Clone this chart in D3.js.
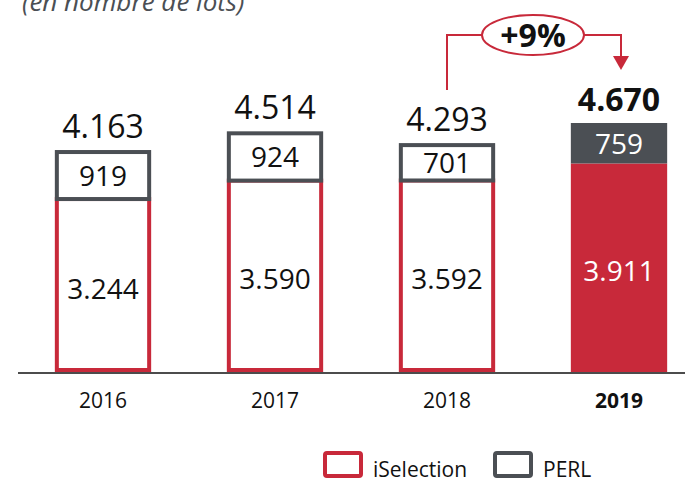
<!DOCTYPE html>
<html lang="fr">
<head>
  <meta charset="UTF-8" />
  <title>Lots iSelection / PERL</title>
  <script src="https://d3js.org/d3.v7.min.js"></script>
  <style>
    body { margin: 0; background: #fff; font-family: 'Open Sans', 'Noto Sans', sans-serif; }
    svg { display: block; }
  </style>
</head>
<body>
  <svg id="chart"></svg>
  <script>
    // chart data
    const years = ["2016", "2017", "2018", "2019"];
    const iSelection = [3244, 3590, 3592, 3911];
    const perl = [919, 924, 701, 759];
    const totals = [4163, 4514, 4293, 4670];
    const growthLabel = "+9%";
    const legendLabels = ["iSelection", "PERL"];

    const width = 685, height = 486;
    const red = "#c8293a", grey = "#4b4f54";

    const svg = d3.select("#chart").attr("width", width).attr("height", height);

    const fr = d3.formatLocale({ decimal: ",", thousands: ".", grouping: [3], currency: ["", "€"] });
    const fmt = fr.format(",d");

    const x = d3.scaleBand().domain(years).range([17, 705]).paddingInner(0.44).paddingOuter(0.22);
    const y = d3.scaleLinear().domain([0, 4670]).range([372, 123]);

    const data = years.map((yr, i) => ({ year: yr, isel: iSelection[i], perl: perl[i], total: totals[i], last: i === years.length - 1 }));

    // subtitle (cut off at top, as in the source)
    svg.append("text")
      .attr("x", 22).attr("y", 11)
      .attr("font-size", 26).attr("font-style", "italic").attr("fill", "#4b4f54")
      .text("(en nombre de lots)");

    const sw = 4;
    const g = svg.append("g");

    // iSelection segments
    g.selectAll("rect.isel").data(data).join("rect")
      .attr("class", "isel")
      .attr("x", d => x(d.year) + (d.last ? 0 : sw / 2))
      .attr("width", d => x.bandwidth() - (d.last ? 0 : sw))
      .attr("y", d => y(d.isel))
      .attr("height", d => y(0) - y(d.isel) - (d.last ? 0 : sw / 2))
      .attr("fill", d => d.last ? red : "#fff")
      .attr("stroke", d => d.last ? "none" : red)
      .attr("stroke-width", sw);

    // PERL segments
    g.selectAll("rect.perl").data(data).join("rect")
      .attr("class", "perl")
      .attr("x", d => x(d.year) + (d.last ? 0 : sw / 2))
      .attr("width", d => x.bandwidth() - (d.last ? 0 : sw))
      .attr("y", d => y(d.total) + (d.last ? 0 : sw / 2))
      .attr("height", d => y(d.isel) - y(d.total) - (d.last ? 0 : sw / 2))
      .attr("fill", d => d.last ? grey : "#fff")
      .attr("stroke", d => d.last ? "none" : grey)
      .attr("stroke-width", sw);

    // baseline
    svg.append("line")
      .attr("x1", 18).attr("x2", width)
      .attr("y1", y(0) + 1).attr("y2", y(0) + 1)
      .attr("stroke", "#111").attr("stroke-width", 1.5);

    // segment labels
    g.selectAll("text.isel").data(data).join("text")
      .attr("x", d => x(d.year) + x.bandwidth() / 2)
      .attr("y", d => (y(d.isel) + y(0)) / 2 + 3)
      .attr("dy", "0.36em")
      .attr("text-anchor", "middle").attr("font-size", 28)
      .attr("fill", d => d.last ? "#fff" : "#111")
      .text(d => fmt(d.isel));

    g.selectAll("text.perl").data(data).join("text")
      .attr("x", d => x(d.year) + x.bandwidth() / 2)
      .attr("y", d => (y(d.isel) + y(d.total)) / 2 + 1)
      .attr("dy", "0.36em")
      .attr("text-anchor", "middle").attr("font-size", 28)
      .attr("fill", d => d.last ? "#fff" : "#111")
      .text(d => fmt(d.perl));

    // totals
    g.selectAll("text.total").data(data).join("text")
      .attr("x", d => x(d.year) + x.bandwidth() / 2)
      .attr("y", d => y(d.total) - 12)
      .attr("text-anchor", "middle").attr("font-size", 32)
      .attr("font-weight", d => d.last ? "bold" : "normal")
      .attr("fill", "#111")
      .text(d => fmt(d.total));

    // year labels
    g.selectAll("text.year").data(data).join("text")
      .attr("x", d => x(d.year) + x.bandwidth() / 2)
      .attr("y", 408)
      .attr("text-anchor", "middle").attr("font-size", 21)
      .attr("font-weight", d => d.last ? "bold" : "normal")
      .attr("fill", "#111")
      .text(d => d.year);

    // growth annotation
    const x0 = x("2018") + x.bandwidth() / 2, x1 = x("2019") + x.bandwidth() / 2;
    const ay = 35, cx = 533, rx = 51, ry = 20;
    const ann = svg.append("g").attr("stroke", red).attr("stroke-width", 2).attr("fill", "none");
    ann.append("path").attr("d", `M${x0},${y(4293) - 53}V${ay}H${cx - rx}`);
    ann.append("path").attr("d", `M${cx + rx},${ay}H${x1 + 2}V${y(4670) - 66}`);
    ann.append("ellipse").attr("cx", cx).attr("cy", ay).attr("rx", rx).attr("ry", ry).attr("fill", "#fff");
    svg.append("path")
      .attr("d", `M${x1 - 6},${y(4670) - 67}h16l-8,14z`)
      .attr("fill", red);
    svg.append("text")
      .attr("x", cx).attr("y", ay).attr("dy", "0.36em")
      .attr("text-anchor", "middle").attr("font-size", 32).attr("font-weight", "bold")
      .attr("fill", "#111").text(growthLabel);

    // legend
    const legend = svg.append("g");
    const lx = [325, 495], colors = [red, grey];
    legendLabels.forEach((lab, i) => {
      legend.append("rect")
        .attr("x", lx[i]).attr("y", 453).attr("width", 36).attr("height", 23)
        .attr("rx", 2).attr("fill", "#fff").attr("stroke", colors[i]).attr("stroke-width", 4);
      legend.append("text")
        .attr("x", lx[i] + 48).attr("y", 477)
        .attr("font-size", 21).attr("fill", "#111").text(lab);
    });
  </script>
</body>
</html>
